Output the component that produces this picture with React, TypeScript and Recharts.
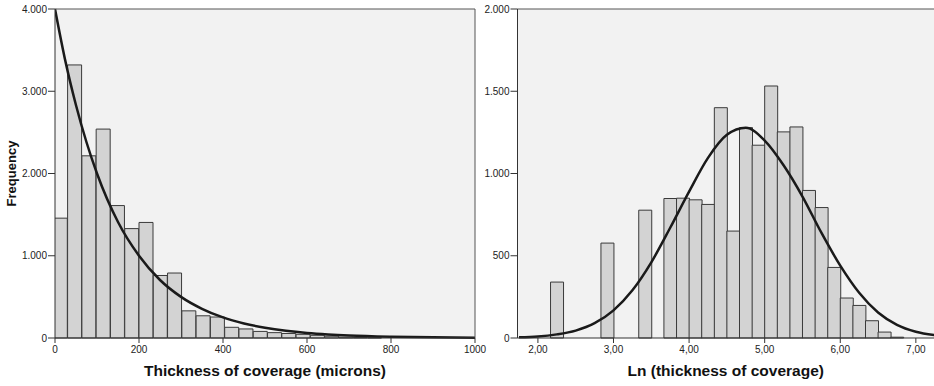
import React from 'react';
import { ComposedChart, Bar, Line, XAxis, YAxis, CartesianGrid, ReferenceLine } from 'recharts';

// left panel: raw thickness histogram (bin width ~34 microns)
const thickBinMid = [13, 47, 81, 115, 149, 183, 217, 251, 285, 319, 353, 387, 421, 455, 489, 523, 557, 591, 625, 659, 693, 727, 761];
const thickCounts = [1457, 3320, 2215, 2540, 1610, 1330, 1405, 760, 790, 330, 270, 255, 130, 110, 80, 65, 55, 45, 33, 22, 10, 6, 4];
// fitted curve
const thickFitX = [0, 25, 50, 75, 100, 150, 200, 250, 300, 350, 400, 450, 500, 550, 600, 650, 700, 800, 900, 1000];
const thickFitY = [4000, 3360, 2830, 2380, 2000, 1410, 1000, 705, 500, 355, 250, 177, 125, 88, 62, 44, 31, 16, 8, 4];
const thickXTicks = [0, 200, 400, 600, 800, 1000];
const thickYTicks = [0, 1000, 2000, 3000, 4000];

// right panel: ln(thickness) histogram (bin width 1/6)
const lnBinMid = [2.25, 2.417, 2.583, 2.75, 2.917, 3.083, 3.25, 3.417, 3.583, 3.75, 3.917, 4.083, 4.25, 4.417, 4.583, 4.75, 4.917, 5.083, 5.25, 5.417, 5.583, 5.75, 5.917, 6.083, 6.25, 6.417, 6.583, 6.75];
const lnCounts = [340, 0, 0, 0, 577, 0, 0, 777, 0, 848, 850, 840, 812, 1400, 650, 1279, 1172, 1532, 1253, 1283, 897, 793, 429, 243, 198, 105, 36, 5];
const lnFitX = [1.75, 2, 2.25, 2.5, 2.75, 3, 3.25, 3.5, 3.75, 4, 4.25, 4.5, 4.75, 5, 5.25, 5.5, 5.75, 6, 6.25, 6.5, 6.75, 7, 7.25];
const lnFitY = [4, 9, 22, 45, 90, 168, 290, 460, 670, 890, 1095, 1235, 1278, 1200, 1050, 860, 640, 440, 275, 155, 80, 38, 17];
const lnXTicks = [2, 3, 4, 5, 6, 7];
const lnYTicks = [0, 500, 1000, 1500, 2000];

const thickBins = thickBinMid.map((mid, i) => ({ mid, n: thickCounts[i] }));
const thickFit = thickFitX.map((x, i) => ({ x, y: thickFitY[i] }));
const lnBins = lnBinMid.map((mid, i) => ({ mid, n: lnCounts[i] }));
const lnFit = lnFitX.map((x, i) => ({ x, y: lnFitY[i] }));

const fmtThousands = (v: number) =>
  v >= 1000 ? `${Math.floor(v / 1000)}.${String(v % 1000).padStart(3, '0')}` : String(v);
const fmtComma = (v: number) => v.toFixed(2).replace('.', ',');

const AXIS = '#333';
const tickStyle = { fontSize: 10, fill: '#222' };
const titleStyle = { fontSize: 15.5, fontWeight: 'bold', fill: '#111' };

export default function App() {
  return (
    <div
      style={{
        position: 'absolute', left: 0, top: 0, width: 934, height: 386,
        background: '#fff', fontFamily: "'Liberation Sans', Arial, sans-serif", overflow: 'hidden',
      }}
    >
      <div style={{ position: 'absolute', left: 0, top: 0 }}>
        <ComposedChart
          width={490}
          height={386}
          data={thickBins}
          margin={{ top: 9, right: 15, bottom: 21, left: 0 }}
          barCategoryGap={0}
          barGap={0}
        >
          <CartesianGrid fill="#f2f2f2" horizontal={false} vertical={false} />
          <XAxis
            dataKey="mid"
            type="number"
            domain={[0, 1000]}
            ticks={thickXTicks}
            interval={0}
            allowDataOverflow
            tickSize={5}
            tickMargin={3}
            height={27}
            tick={tickStyle}
            axisLine={{ stroke: AXIS }}
            tickLine={{ stroke: AXIS }}
            label={{ value: 'Thickness of coverage (microns)', position: 'bottom', offset: 0, style: titleStyle }}
          />
          <XAxis xAxisId="curve" dataKey="x" type="number" domain={[0, 1000]} allowDataOverflow hide />
          <YAxis
            type="number"
            domain={[0, 4000]}
            ticks={thickYTicks}
            interval={0}
            width={55}
            tickSize={7}
            tickMargin={1}
            tickFormatter={fmtThousands}
            tick={tickStyle}
            axisLine={{ stroke: AXIS }}
            tickLine={{ stroke: AXIS }}
            label={{
              value: 'Frequency', angle: -90, position: 'insideLeft', offset: 11,
              style: { textAnchor: 'middle', fontSize: 13, fontWeight: 'bold', fill: '#111' },
            }}
          />
          <Bar dataKey="n" fill="#d3d3d3" stroke="#3a3a3a" strokeWidth={1} isAnimationActive={false} />
          <Line
            xAxisId="curve"
            data={thickFit}
            dataKey="y"
            type="monotone"
            dot={false}
            stroke="#1a1a1a"
            strokeWidth={2.5}
            isAnimationActive={false}
          />
          <ReferenceLine y={4000} stroke="#555" />
          <ReferenceLine x={1000} stroke="#555" />
        </ComposedChart>
      </div>
      <div style={{ position: 'absolute', left: 480, top: 0 }}>
        <ComposedChart
          width={454}
          height={386}
          data={lnBins}
          margin={{ top: 9, right: 0, bottom: 21, left: 0 }}
          barCategoryGap={0}
          barGap={0}
        >
          <CartesianGrid fill="#f2f2f2" horizontal={false} vertical={false} />
          <XAxis
            dataKey="mid"
            type="number"
            domain={[1.73, 7.24]}
            ticks={lnXTicks}
            interval={0}
            allowDataOverflow
            tickSize={5}
            tickMargin={3}
            height={27}
            tickFormatter={fmtComma}
            tick={tickStyle}
            axisLine={{ stroke: AXIS }}
            tickLine={{ stroke: AXIS }}
            label={{ value: 'Ln (thickness of coverage)', position: 'bottom', offset: 0, style: titleStyle }}
          />
          <XAxis xAxisId="curve" dataKey="x" type="number" domain={[1.73, 7.24]} allowDataOverflow hide />
          <YAxis
            type="number"
            domain={[0, 2000]}
            ticks={lnYTicks}
            interval={0}
            width={37.5}
            tickSize={7}
            tickMargin={1}
            tickFormatter={fmtThousands}
            tick={tickStyle}
            axisLine={{ stroke: AXIS }}
            tickLine={{ stroke: AXIS }}
          />
          <Bar dataKey="n" fill="#d3d3d3" stroke="#3a3a3a" strokeWidth={1} isAnimationActive={false} />
          <Line
            xAxisId="curve"
            data={lnFit}
            dataKey="y"
            type="monotone"
            dot={false}
            stroke="#1a1a1a"
            strokeWidth={2.5}
            isAnimationActive={false}
          />
          <ReferenceLine y={2000} stroke="#555" />
        </ComposedChart>
      </div>
    </div>
  );
}
